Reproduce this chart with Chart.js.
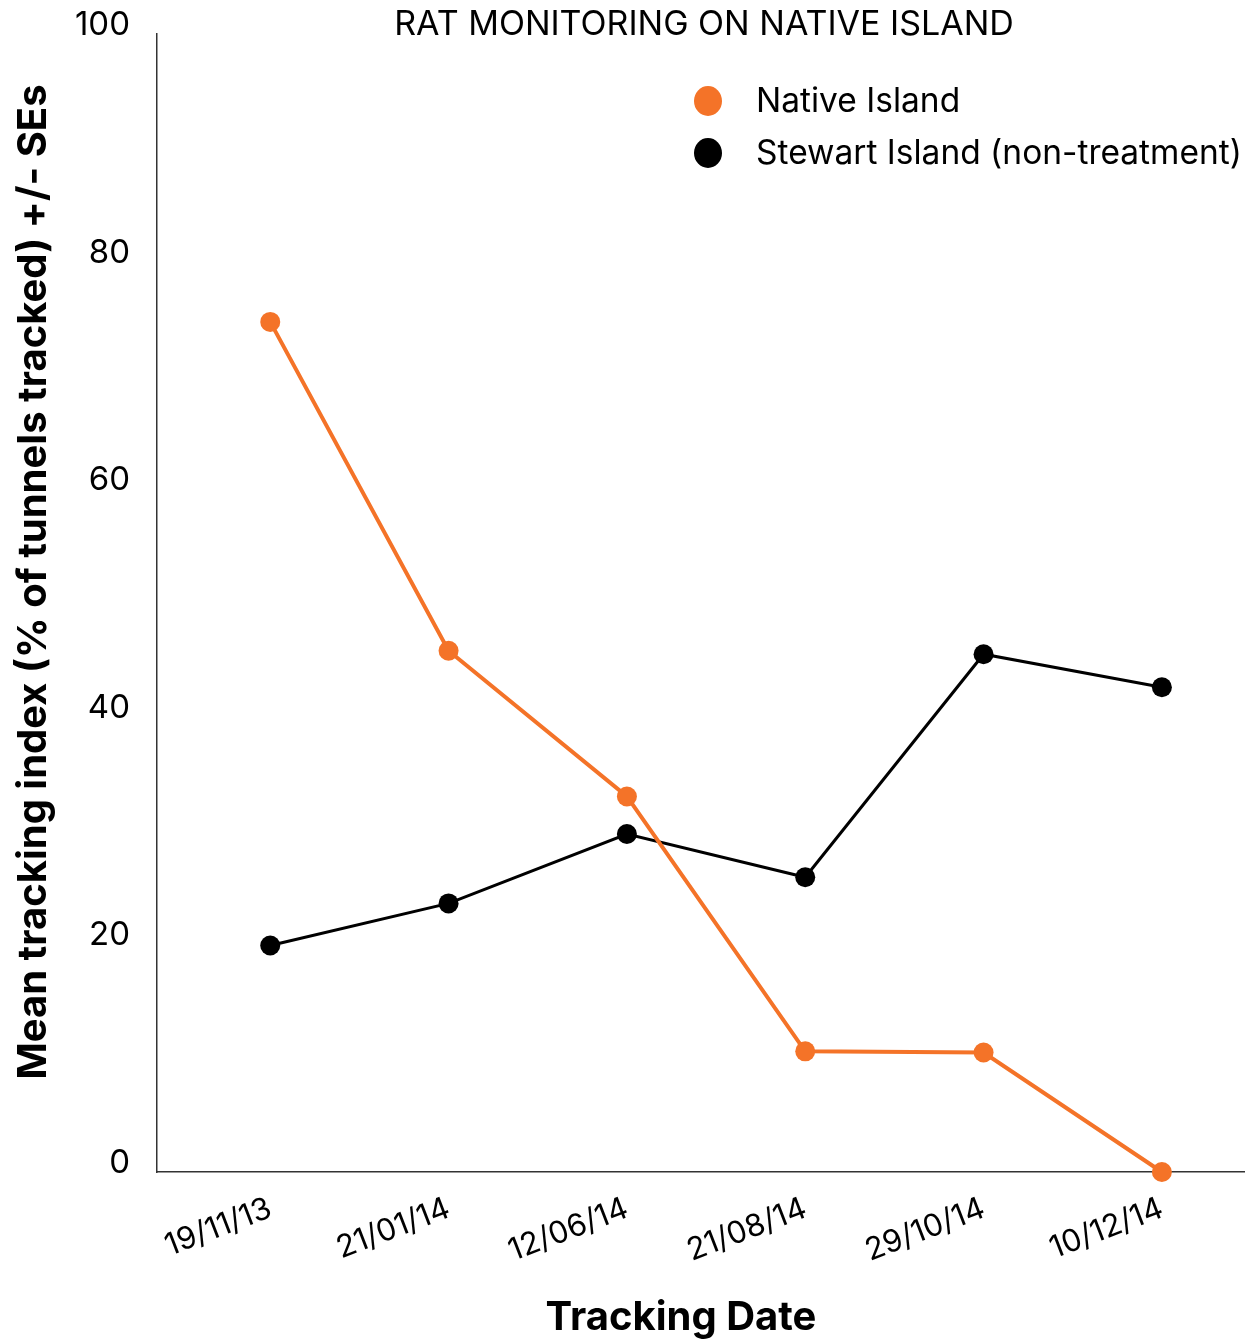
<!DOCTYPE html>
<html>
<head>
<meta charset="utf-8">
<script src="https://cdn.jsdelivr.net/npm/chart.js@4.4.0/dist/chart.umd.min.js"></script>
<style>
html,body{margin:0;padding:0;background:#fff;}
#wrap{width:1245px;height:1342px;position:relative;}
</style>
</head>
<body>
<div id="wrap"><canvas id="c" width="1245" height="1342"></canvas></div>
<script>
const chartTitle = 'RAT MONITORING ON NATIVE ISLAND';
const xTitle = 'Tracking Date';
const yTitle = 'Mean tracking index (% of tunnels tracked) +/- SEs';
const dates = ['19/11/13','21/01/14','12/06/14','21/08/14','29/10/14','10/12/14'];
const nativeIsland = [74.7, 45.8, 33.0, 10.6, 10.5, 0];
const stewartIsland = [19.9, 23.6, 29.7, 25.9, 45.5, 42.6];
const seriesNames = ['Native Island', 'Stewart Island (non-treatment)'];
const seriesColors = ['#F47328', '#000000'];
const yTicks = [0, 20, 40, 60, 80, 100];

const FONT = 'Inter, "Open Sans", sans-serif';

const toXY = arr => arr.map((v, i) => ({x: i, y: v}));

const overlay = {
  id: 'overlay',
  afterDraw(chart) {
    const ctx = chart.ctx;
    ctx.save();
    ctx.fillStyle = '#000';
    ctx.textAlign = 'center';
    ctx.textBaseline = 'middle';
    ctx.font = '400 34px ' + FONT;
    ctx.fillText(chartTitle, 704, 25);
    // axis titles
    ctx.font = '700 40px ' + FONT;
    ctx.fillText(xTitle, 681, 1318);
    ctx.save();
    ctx.translate(34, 582);
    ctx.rotate(-Math.PI / 2);
    ctx.font = '700 40px ' + FONT;
    ctx.fillText(yTitle, 0, 0);
    ctx.restore();
    // legend
    chart.data.datasets.forEach((ds, i) => {
      const y = 101 + i * 52;
      ctx.beginPath();
      ctx.fillStyle = ds.borderColor;
      ctx.ellipse(708, y, 14, 15, 0, 0, Math.PI * 2);
      ctx.fill();
      ctx.fillStyle = '#000';
      ctx.font = '400 33.5px ' + FONT;
      ctx.textAlign = 'left';
      ctx.fillText(ds.label, 756, y + 1);
    });
    ctx.restore();
  }
};

new Chart(document.getElementById('c'), {
  type: 'line',
  data: {
    datasets: [
      {label: seriesNames[0], data: toXY(nativeIsland), borderColor: seriesColors[0], backgroundColor: seriesColors[0],
       borderWidth: 4, pointRadius: 10, pointHoverRadius: 10, pointBorderWidth: 0, clip: false},
      {label: seriesNames[1], data: toXY(stewartIsland), borderColor: seriesColors[1], backgroundColor: seriesColors[1],
       borderWidth: 3, pointRadius: 10, pointHoverRadius: 10, pointBorderWidth: 0, clip: false}
    ]
  },
  options: {
    responsive: false,
    animation: false,
    devicePixelRatio: 1,
    layout: {autoPadding: false, padding: {left: 0, right: 0, top: 34, bottom: 0}},
    plugins: {legend: {display: false}, tooltip: {enabled: false}, title: {display: false}},
    scales: {
      x: {
        type: 'linear',
        min: -0.635,
        max: 5.466,
        grid: {display: false, drawTicks: false},
        border: {display: true, color: '#333', width: 1.5},
        afterBuildTicks: s => { s.ticks = dates.map((d, i) => ({value: i})); },
        afterFit: s => { s.height = 170; s.paddingLeft = 0; s.paddingRight = 0; },
        ticks: {
          autoSkip: false,
          minRotation: 21, maxRotation: 21,
          padding: 18,
          color: '#000',
          font: {family: FONT, size: 31},
          callback: v => dates[v]
        },
        title: {display: false}
      },
      y: {
        min: 0, max: 100,
        grid: {display: false, drawTicks: false},
        border: {display: true, color: '#333', width: 1.5},
        afterBuildTicks: s => { s.ticks = yTicks.map(v => ({value: v})); },
        afterFit: s => { s.width = 157; s.paddingTop = 0; s.paddingBottom = 0; },
        ticks: {
          padding: 27,
          labelOffset: -9,
          color: '#000',
          font: {family: FONT, size: 33}
        },
        title: {display: false}
      }
    }
  },
  plugins: [overlay]
});
</script>
</body>
</html>
